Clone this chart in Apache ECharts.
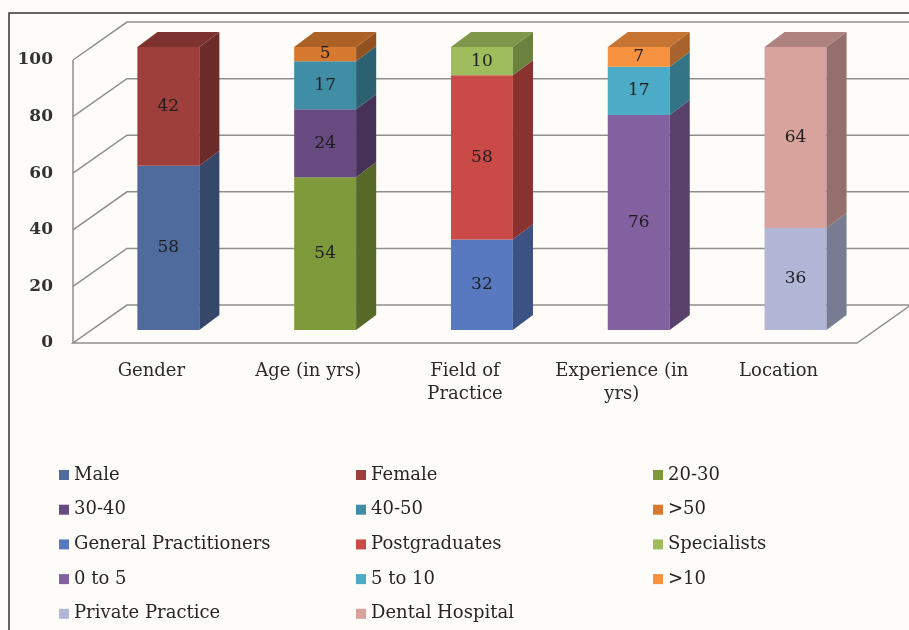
<!DOCTYPE html>
<html>
<head>
<meta charset="utf-8">
<script src="https://cdn.jsdelivr.net/npm/echarts@6/dist/echarts.min.js"></script>
<style>
html,body{margin:0;padding:0;background:#fdfcf9;}
#chart{width:909px;height:630px;}
</style>
</head>
<body>
<div id="chart"></div>
<script>
// ---- data ----
const categories = ['Gender', 'Age (in yrs)', 'Field of\nPractice', 'Experience (in\nyrs)', 'Location'];
const yTicks = [0, 20, 40, 60, 80, 100];

const genderNames = ['Male', 'Female'];
const genderValues = [58, 42];
const ageNames = ['20-30', '30-40', '40-50', '>50'];
const ageValues = [54, 24, 17, 5];
const fieldNames = ['General Practitioners', 'Postgraduates', 'Specialists'];
const fieldValues = [32, 58, 10];
const expNames = ['0 to 5', '5 to 10', '>10'];
const expValues = [76, 17, 7];
const locNames = ['Private Practice', 'Dental Hospital'];
const locValues = [36, 64];

// ---- style ----
const colors = {
  'Male': '#4f6a9c', 'Female': '#9e3f3c',
  '20-30': '#7f9a3a', '30-40': '#674a7f', '40-50': '#3f8ea5', '>50': '#d7792f',
  'General Practitioners': '#5879c0', 'Postgraduates': '#c94a46', 'Specialists': '#9fbd5c',
  '0 to 5': '#83609f', '5 to 10': '#4cabc6', '>10': '#f6913f',
  'Private Practice': '#b1b6d6', 'Dental Hospital': '#d9a39d'
};
const FONT = 'DejaVu Serif';

function shade(hex, f) {
  const n = parseInt(hex.slice(1), 16);
  const r = Math.round(((n >> 16) & 255) * f), g = Math.round(((n >> 8) & 255) * f), b = Math.round((n & 255) * f);
  return 'rgb(' + r + ',' + g + ',' + b + ')';
}

// projection factors (fraction of a category band)
const BAR_W = 0.395, BAR_OX = 0.108, BAR_OY = -0.083, BAR_DX = 0.128, BAR_DY = -0.096;
const WALL_DX = 0.344, WALL_DY = -0.242;

function barRender(params, api) {
  const cat = api.value(0), base = api.value(1), val = api.value(2), isTop = api.value(3);
  const name = params.seriesName;
  const c = colors[name];
  const pb = api.coord([cat, base]);
  const pt = api.coord([cat, base + val]);
  const band = api.size([1, 0])[0];
  const w = band * BAR_W;
  const ox = band * BAR_OX, oy = band * BAR_OY, dx = band * BAR_DX, dy = band * BAR_DY;
  const xl = pb[0] - w / 2 + ox, xr = pb[0] + w / 2 + ox;
  const yb = pb[1] + oy, yt = pt[1] + oy;
  const children = [
    { type: 'rect', shape: { x: xl, y: yt, width: w, height: yb - yt }, style: { fill: c } },
    { type: 'polygon', shape: { points: [[xr, yb], [xr + dx, yb + dy], [xr + dx, yt + dy], [xr, yt]] }, style: { fill: shade(c, 0.68) } }
  ];
  if (isTop) {
    children.push({ type: 'polygon', shape: { points: [[xl, yt], [xr, yt], [xr + dx, yt + dy], [xl + dx, yt + dy]] }, style: { fill: shade(c, 0.8) } });
  }
  children.push({
    type: 'text',
    style: {
      text: String(val), x: (xl + xr) / 2, y: (yt + yb) / 2,
      align: 'center', verticalAlign: 'middle',
      font: '17px "' + FONT + '"', fill: '#1e1e1e'
    }
  });
  return { type: 'group', children: children };
}

function frameRender(params, api) {
  const cs = params.coordSys;
  const v = api.value(1);
  const band = api.size([1, 0])[0];
  const DX = band * WALL_DX, DY = band * WALL_DY;
  const y = api.coord([0, v])[1];
  const xL = cs.x, xR = cs.x + cs.width;
  const st = { stroke: '#8e8e8e', lineWidth: 1.5, fill: null };
  const children = [];
  if (v === yTicks[0]) {
    children.push({ type: 'polygon', shape: { points: [[xL, y], [xR, y], [xR + DX, y + DY], [xL + DX, y + DY]] }, style: st });
  } else {
    children.push({ type: 'polyline', shape: { points: [[xL, y], [xL + DX, y + DY], [xR + DX + 40, y + DY]] }, style: st });
  }
  if (v === yTicks[yTicks.length - 1]) {
    children.push({ type: 'line', shape: { x1: xL, y1: cs.y, x2: xL, y2: cs.y + cs.height }, style: st });
  }
  return { type: 'group', children: children };
}

const groups = [
  [genderNames, genderValues],
  [ageNames, ageValues],
  [fieldNames, fieldValues],
  [expNames, expValues],
  [locNames, locValues]
];

const series = [{
  type: 'custom',
  name: '__frame',
  renderItem: frameRender,
  data: yTicks.map(v => [0, v]),
  silent: true,
  clip: false,
  z: 1
}];
const legendOrder = [];
groups.forEach((g, ci) => {
  let cum = 0;
  g[0].forEach((nm, i) => {
    const v = g[1][i];
    series.push({
      type: 'custom',
      name: nm,
      renderItem: barRender,
      itemStyle: { color: colors[nm] },
      data: [[ci, cum, v, i === g[0].length - 1 ? 1 : 0]],
      encode: { x: 0, y: 1 },
      clip: false,
      z: 2
    });
    legendOrder.push(nm);
    cum += v;
  });
});

const legendCols = [0, 1, 2].map(k => legendOrder.filter((_, i) => i % 3 === k));
const legendLeft = [59, 356, 653];
const legends = legendCols.map((d, k) => ({
  data: d,
  orient: 'vertical',
  left: legendLeft[k],
  top: 465,
  height: 200,
  padding: 0,
  icon: 'rect',
  itemWidth: 10,
  itemHeight: 10,
  itemGap: 14.7,
  selectedMode: false,
  textStyle: { fontFamily: FONT, fontSize: 18, color: '#262626', lineHeight: 20 }
}));

const chart = echarts.init(document.getElementById('chart'), null, { renderer: 'canvas' });
chart.setOption({
  backgroundColor: '#fdfcf9',
  animation: false,
  grid: { left: 73, right: 52, top: 60, bottom: 287, containLabel: false },
  xAxis: {
    type: 'category',
    data: categories,
    axisLine: { show: false },
    axisTick: { show: false },
    axisLabel: { fontFamily: FONT, fontSize: 18, color: '#2a2a2a', margin: 17, lineHeight: 23, interval: 0 }
  },
  yAxis: {
    type: 'value',
    min: 0, max: 100, interval: 20,
    axisLine: { show: false },
    axisTick: { show: false },
    splitLine: { show: false },
    axisLabel: { fontFamily: FONT, fontSize: 17, fontWeight: 'bold', color: '#333', margin: 20 }
  },
  legend: legends,
  graphic: [{
    type: 'rect',
    shape: { x: 9, y: 13, width: 1000, height: 1000 },
    style: { fill: null, stroke: '#333', lineWidth: 1.5 },
    silent: true,
    z: 100
  }],
  series: series
});
</script>
</body>
</html>
